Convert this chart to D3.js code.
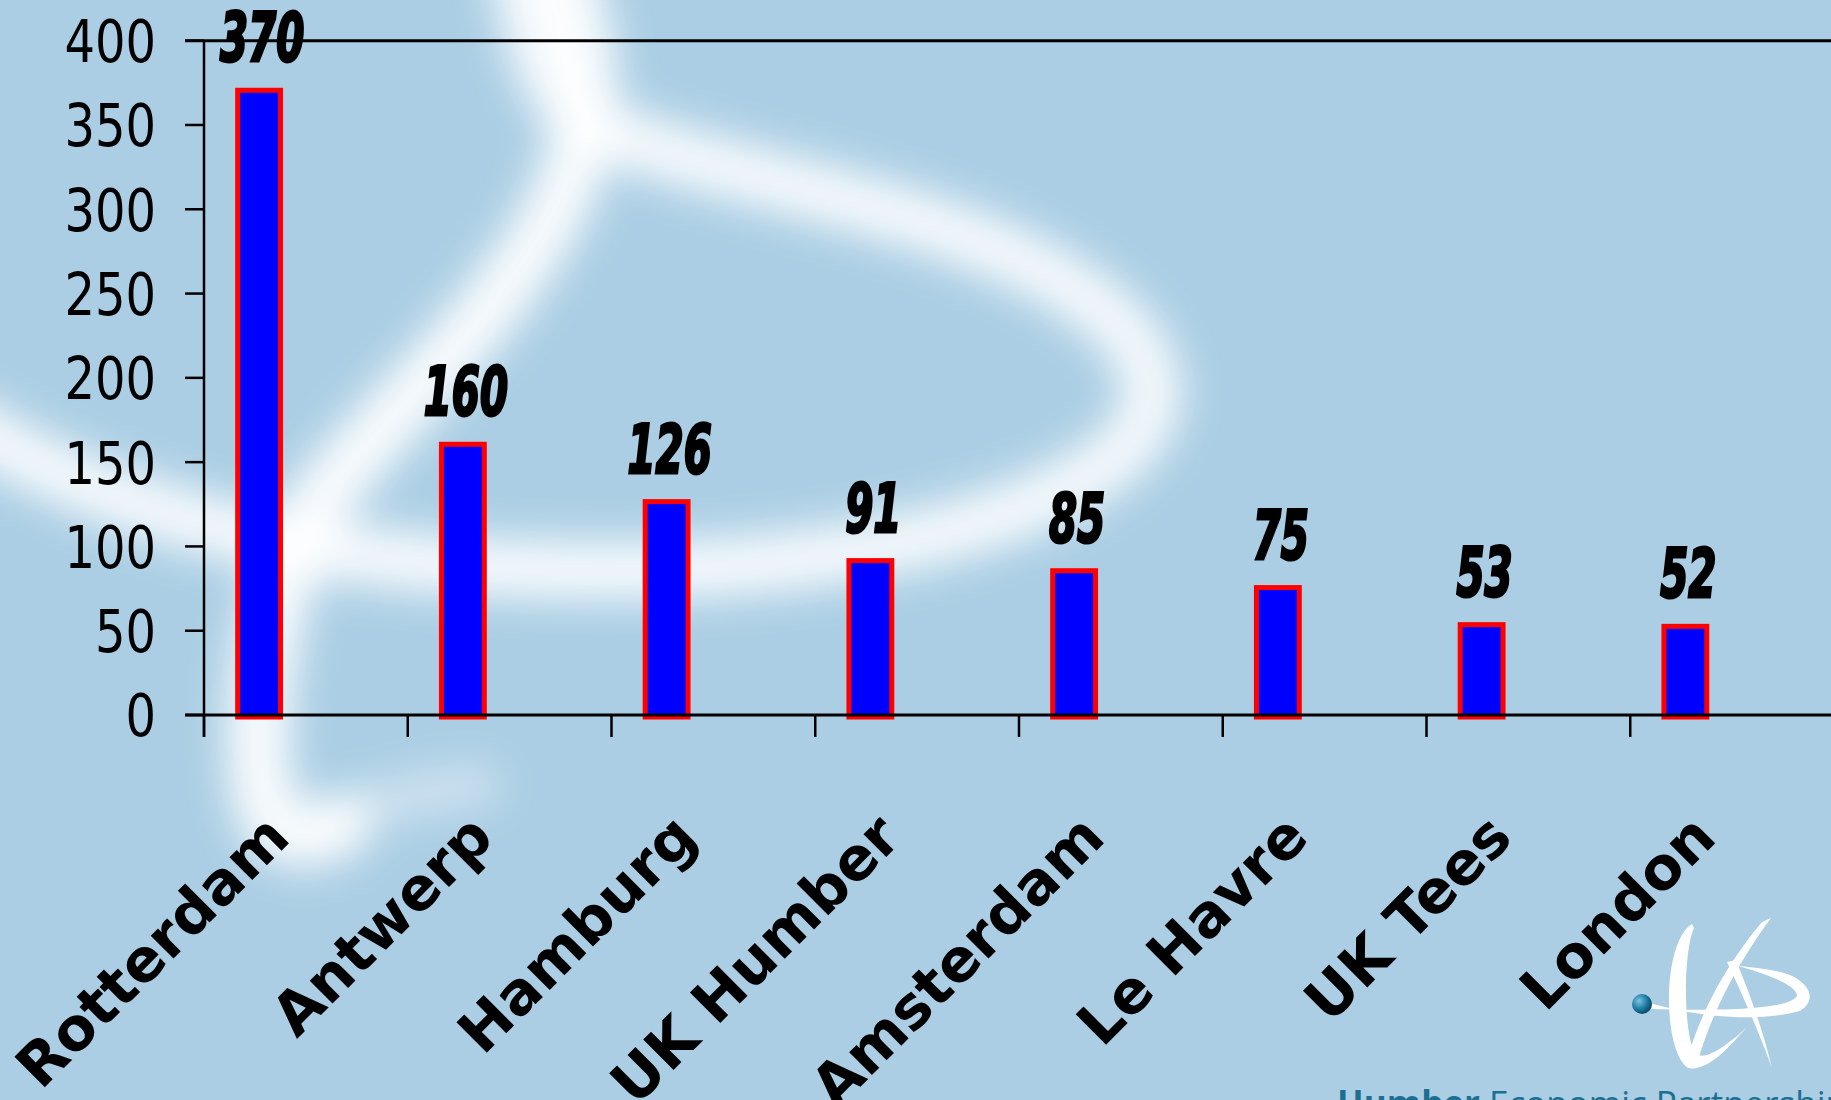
<html>
  <head>
    <script src="https://d3js.org/d3.v7.min.js"></script>
    <style>
      body {
        margin: 0;
        overflow: hidden;
      }
      .ylab {
        font-family: "DejaVu Sans Condensed", "DejaVu Sans", sans-serif;
        font-size: 58px;
      }
      .xlab {
        font-family: "DejaVu Sans", Verdana, sans-serif;
        font-weight: bold;
        font-size: 59px;
      }
      .vlab {
        font-family: "DejaVu Sans Condensed", "DejaVu Sans", sans-serif;
        font-weight: bold;
        font-style: italic;
        font-size: 68px;
      }
    </style>
  </head>

  <body>
    <svg id="chart" width="1831" height="1100"></svg>

    <script>
      const ports = ["Rotterdam", "Antwerp", "Hamburg", "UK Humber", "Amsterdam", "Le Havre", "UK Tees", "London"];
      const values = [370, 160, 126, 91, 85, 75, 53, 52];
      const yTicks = [0, 50, 100, 150, 200, 250, 300, 350, 400];

      const svg = d3.select("svg#chart");
      const W = 1831, H = 1100;

      // background + blurred logo watermark
      const defs = svg.append("defs");
      defs.append("filter").attr("id", "blur")
        .attr("x", "-50%").attr("y", "-50%").attr("width", "200%").attr("height", "200%")
        .append("feGaussianBlur").attr("stdDeviation", 20);
      const grad = defs.append("radialGradient").attr("id", "dot")
        .attr("cx", "35%").attr("cy", "35%").attr("r", "65%");
      grad.append("stop").attr("offset", "0%").attr("stop-color", "#7fc3e0");
      grad.append("stop").attr("offset", "60%").attr("stop-color", "#1f7ea6");
      grad.append("stop").attr("offset", "100%").attr("stop-color", "#0b4d6c");

      svg.append("rect").attr("width", W).attr("height", H).attr("fill", "#abcee4");

      const wm = svg.append("g").attr("filter", "url(#blur)")
        .attr("fill", "none").attr("stroke", "#ffffff").attr("stroke-linecap", "round");
      wm.append("path")
        .attr("d", "M 560,-40 C 590,60 600,110 560,200 C 500,320 380,420 320,500 C 270,580 250,700 262,790 C 270,840 300,845 340,825")
        .attr("stroke-width", 62).attr("opacity", 0.95);
      wm.append("path")
        .attr("d", "M 330,820 C 380,800 430,790 480,785")
        .attr("stroke-width", 40).attr("opacity", 0.45);
      wm.append("path")
        .attr("d", "M -40,420 C 150,540 400,575 650,570 C 900,565 1120,500 1150,410 C 1170,330 1050,260 900,215 C 780,180 680,160 600,130 C 560,110 530,60 520,-40")
        .attr("stroke-width", 58).attr("opacity", 0.9);

      // scales
      const x = d3.scaleBand().domain(ports).range([204, 204 + 8 * 203.75]);
      const y = d3.scaleLinear().domain([0, 400]).range([715, 40.7]);
      const step = x.step();
      const barX = (d) => x(d) + step * 0.153;
      const barW = step * 0.235;

      // axes
      const ax = svg.append("g").attr("stroke", "#000");
      ax.append("line").attr("x1", 185).attr("x2", W).attr("y1", y(400)).attr("y2", y(400)).attr("stroke-width", 3);
      ax.append("line").attr("x1", 204).attr("x2", 204).attr("y1", y(400)).attr("y2", 737).attr("stroke-width", 2.5);
      ax.selectAll("line.yt").data(yTicks).join("line").attr("class", "yt")
        .attr("x1", 185).attr("x2", 204).attr("y1", (d) => y(d)).attr("y2", (d) => y(d)).attr("stroke-width", 2.5);
      ax.selectAll("line.xt").data(ports).join("line").attr("class", "xt")
        .attr("x1", (d) => x(d)).attr("x2", (d) => x(d)).attr("y1", 715).attr("y2", 737).attr("stroke-width", 2.5);

      svg.selectAll("text.ylab").data(yTicks).join("text").attr("class", "ylab")
        .attr("transform", (d) => `translate(156,${y(d)}) scale(0.92,1)`)
        .attr("dy", "0.37em")
        .attr("text-anchor", "end").text((d) => d);

      // bars
      svg.selectAll("rect.bar").data(ports).join("rect").attr("class", "bar")
        .attr("x", (d) => barX(d) + 2.5)
        .attr("y", (d, i) => y(values[i]) - 1)
        .attr("width", barW - 5)
        .attr("height", (d, i) => y(0) - y(values[i]) + 3)
        .attr("fill", "#0000ff").attr("stroke", "#ff0000").attr("stroke-width", 5);

      // baseline on top of bars
      svg.append("line").attr("x1", 185).attr("x2", W).attr("y1", 715).attr("y2", 715)
        .attr("stroke", "#000").attr("stroke-width", 3);

      // value labels, squeezed to a narrow heavy italic
      svg.selectAll("text.vlab").data(ports).join("text").attr("class", "vlab")
        .attr("transform", (d, i) => `translate(${barX(d) + barW / 2 + 3},${y(values[i]) - 30}) scale(0.66,1)`)
        .attr("text-anchor", "middle")
        .attr("stroke", "#000").attr("stroke-width", 3)
        .text((d, i) => values[i]);

      // category labels
      svg.selectAll("text.xlab").data(ports).join("text").attr("class", "xlab")
        .attr("text-anchor", "end")
        .attr("transform", (d) => `translate(${barX(d) + barW / 2 + 33},840) rotate(-45)`)
        .text((d) => d);

      // logo
      const logo = svg.append("g").attr("fill", "#ffffff");
      logo.append("path").attr("d", "M 1692,924 C 1662,942 1662,1050 1688,1068 C 1708,1072 1730,1046 1746,1028 C 1722,1050 1704,1060 1696,1054 C 1683,1038 1683,952 1694,928 Z");
      logo.append("path").attr("d", "M 1771,918 L 1762,922 C 1730,960 1700,1010 1686,1064 L 1697,1064 C 1712,1010 1740,960 1771,918 Z");
      logo.append("path").attr("d", "M 1650,1003 C 1700,1018 1760,1022 1800,1011 C 1816,1001 1812,985 1790,975 C 1775,970 1760,968 1738,966 C 1770,975 1795,985 1797,995 C 1795,1006 1750,1012 1650,1009 Z");
      logo.append("path").attr("d", "M 1727,962 L 1736,960 C 1750,995 1763,1030 1772,1068 C 1760,1035 1745,1000 1727,962 Z");
      svg.append("circle").attr("cx", 1642).attr("cy", 1004).attr("r", 10).attr("fill", "url(#dot)");

      const brand = svg.append("text").attr("x", 1337).attr("y", 1116)
        .attr("font-family", "'Open Sans', 'DejaVu Sans', sans-serif").attr("font-size", 35)
        .attr("fill", "#1d6f91");
      brand.append("tspan").attr("font-weight", "bold").text("Humber");
      brand.append("tspan").text(" Economic Partnership");
    </script>
  </body>
</html>
